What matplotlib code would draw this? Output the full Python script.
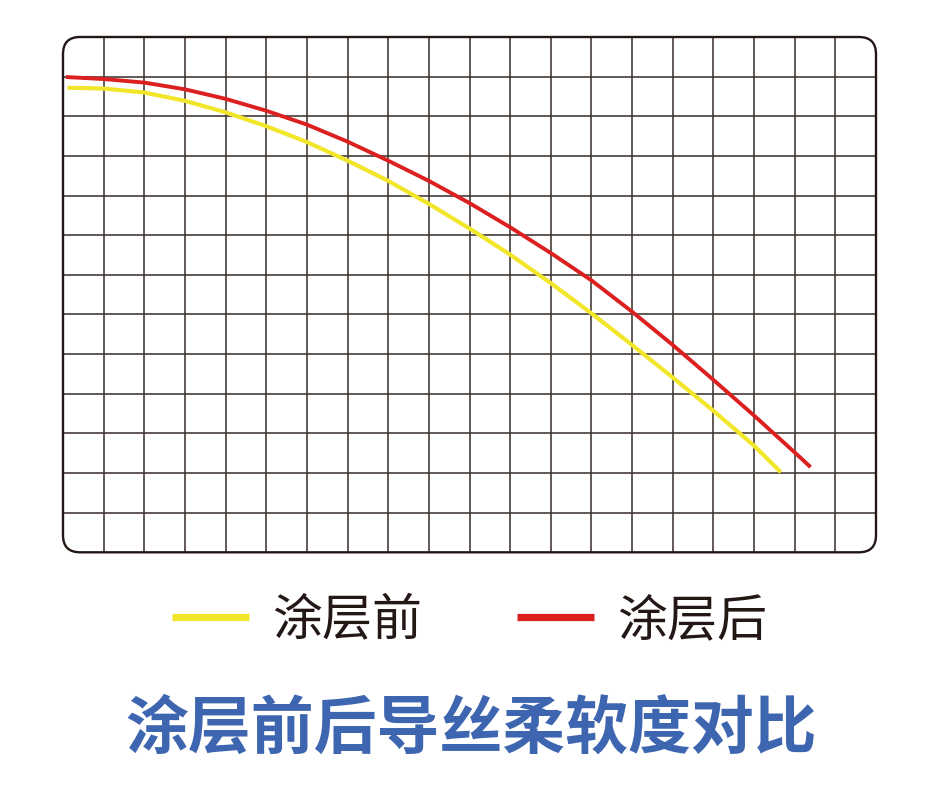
import matplotlib
matplotlib.use("Agg")
import matplotlib.pyplot as plt
from matplotlib.patches import FancyBboxPatch

plt.rcParams['font.family'] = ['Noto Sans CJK SC', 'DejaVu Sans']

# Data (grid units)
before_x = [0.11, 1, 2, 3, 4, 5, 6, 7, 8, 9, 10, 11, 12, 13, 14, 15, 16, 17, 17.66]
before_y = [11.72, 11.70, 11.60, 11.39, 11.10, 10.75, 10.35, 9.88, 9.37, 8.79,
            8.17, 7.51, 6.79, 6.03, 5.23, 4.41, 3.57, 2.69, 2.02]
after_x = [0.07, 1, 2, 3, 4, 5, 6, 7, 8, 9, 10, 11, 12, 13, 14, 15, 16, 17, 18, 18.39]
after_y = [11.99, 11.94, 11.85, 11.68, 11.44, 11.14, 10.79, 10.36, 9.88, 9.37,
           8.81, 8.20, 7.55, 6.86, 6.07, 5.23, 4.35, 3.45, 2.52, 2.15]
labels = ['涂层前', '涂层后']
title = '涂层前后导丝柔软度对比'
n_cols, n_rows = 20, 13

fig = plt.figure(figsize=(9.41, 8.04), dpi=100)
ax = fig.add_axes([63/941, 1-553.3/804, 813/941, 515.3/804])
ax.set_xlim(0, n_cols)
ax.set_ylim(0, n_rows)
for s in ax.spines.values():
    s.set_visible(False)
ax.set_xticks([]); ax.set_yticks([])

grid_c = '#3e3431'
for i in range(1, n_cols):
    ax.axvline(i, color=grid_c, lw=1.15, zorder=1)
for j in range(1, n_rows):
    ax.axhline(j, color=grid_c, lw=1.15, zorder=1)

box = FancyBboxPatch((0, 0), n_cols, n_rows,
                     boxstyle='round,pad=0,rounding_size=0.42',
                     mutation_aspect=40.65/39.64,
                     fill=False, ec='#231815', lw=1.7, zorder=3, clip_on=False)
ax.add_patch(box)

l1, = ax.plot(before_x, before_y, color='#f2e62b', lw=3.0, zorder=4,
              solid_capstyle='butt', solid_joinstyle='round', label=labels[0])
l2, = ax.plot(after_x, after_y, color='#dc1f1f', lw=2.8, zorder=5,
              solid_capstyle='butt', solid_joinstyle='round', label=labels[1])

leg = fig.legend(handles=[l1, l2], labels=labels, ncol=2,
                 loc='center', bbox_to_anchor=(469.5/941, 1-621.5/804),
                 frameon=False, fontsize=36, handlelength=1.54,
                 handletextpad=0.46, columnspacing=1.9,
                 labelcolor='#231815')
for h in leg.legend_handles:
    h.set_linewidth(5.2)

fig.text(471/941, 1-729/804, title, ha='center', va='center',
         fontsize=45.3, fontweight='bold', color='#3d65b0')

fig.savefig('out.png', dpi=100, facecolor='white')
